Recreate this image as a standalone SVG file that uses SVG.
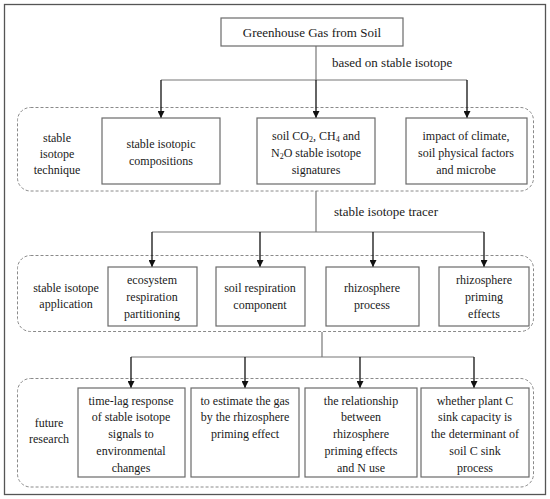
<svg xmlns="http://www.w3.org/2000/svg" width="550" height="499" viewBox="0 0 550 499" font-family="Liberation Serif">
<defs>
<marker id="ah" viewBox="0 0 10 10" refX="10" refY="5" markerWidth="7" markerHeight="7" markerUnits="userSpaceOnUse" orient="auto">
<path d="M0,0 L10,5 L0,10 z" fill="#111"/>
</marker>
<style>
text{font-size:12px;fill:#1a1a1a;text-anchor:middle}
.lbl{text-anchor:start;font-size:13px}
.box{fill:#fff;stroke:#6a6a6a;stroke-width:1.2}
.grp{fill:none;stroke:#8a8a8a;stroke-width:1;stroke-dasharray:3,2}
.ln{fill:none;stroke:#777;stroke-width:1.2}
.ar{fill:none;stroke:#111;stroke-width:1.3;marker-end:url(#ah)}
.sub{font-size:8px}
</style>
</defs>
<rect x="4.5" y="4.5" width="541" height="490" fill="#fff" stroke="#555" stroke-width="1.3"/>

<g id="groups">
<rect class="grp" x="17.5" y="107.5" width="516" height="83.5" rx="13"/>
<rect class="grp" x="17.5" y="255.5" width="516" height="76" rx="13"/>
<rect class="grp" x="17.5" y="378.5" width="516" height="108.5" rx="13"/>
</g>

<g id="connectors">
<line class="ln" x1="316" y1="46" x2="316" y2="80"/>
<line class="ln" x1="161" y1="80" x2="467" y2="80"/>
<line class="ar" x1="161" y1="80" x2="161" y2="118"/>
<line class="ar" x1="316" y1="80" x2="316" y2="118"/>
<line class="ar" x1="467" y1="80" x2="467" y2="118"/>
<line class="ln" x1="316" y1="191" x2="316" y2="232"/>
<line class="ln" x1="152" y1="232" x2="484" y2="232"/>
<line class="ar" x1="152" y1="232" x2="152" y2="267"/>
<line class="ar" x1="260" y1="232" x2="260" y2="267"/>
<line class="ar" x1="373" y1="232" x2="373" y2="267"/>
<line class="ar" x1="484" y1="232" x2="484" y2="267"/>
<line class="ln" x1="322" y1="332" x2="322" y2="357"/>
<line class="ln" x1="131" y1="357" x2="474" y2="357"/>
<line class="ar" x1="131" y1="357" x2="131" y2="388"/>
<line class="ar" x1="245" y1="357" x2="245" y2="388"/>
<line class="ar" x1="360" y1="357" x2="360" y2="388"/>
<line class="ar" x1="474" y1="357" x2="474" y2="388"/>
<text class="lbl" x="332" y="67">based on stable isotope</text>
<text class="lbl" x="334" y="216">stable isotope tracer</text>
</g>

<g id="n-ghg">
<rect class="box" x="221" y="18" width="182" height="28"/>
<text x="312" y="37" style="font-size:13px">Greenhouse Gas from Soil</text>
</g>

<g id="l-technique">
<text x="57" y="142">stable</text>
<text x="57" y="158">isotope</text>
<text x="57" y="174">technique</text>
</g>
<g id="n-compositions">
<rect class="box" x="102" y="118" width="118" height="66"/>
<text x="161" y="148">stable isotopic</text>
<text x="161" y="165">compositions</text>
</g>
<g id="n-signatures">
<rect class="box" x="257" y="118" width="118" height="66"/>
<text x="316" y="140">soil CO<tspan class="sub" dy="2">2</tspan><tspan dy="-2">, CH</tspan><tspan class="sub" dy="2">4</tspan><tspan dy="-2"> and</tspan></text>
<text x="316" y="157">N<tspan class="sub" dy="2">2</tspan><tspan dy="-2">O stable isotope</tspan></text>
<text x="316" y="174">signatures</text>
</g>
<g id="n-impact">
<rect class="box" x="406" y="118" width="121" height="66"/>
<text x="466" y="140">impact of climate,</text>
<text x="466" y="157">soil physical factors</text>
<text x="466" y="174">and microbe</text>
</g>

<g id="l-application">
<text x="66" y="292">stable isotope</text>
<text x="66" y="308">application</text>
</g>
<g id="n-ecosystem">
<rect class="box" x="108" y="267" width="89" height="59"/>
<text x="152" y="284">ecosystem</text>
<text x="152" y="301">respiration</text>
<text x="152" y="318">partitioning</text>
</g>
<g id="n-soilresp">
<rect class="box" x="216" y="267" width="89" height="59"/>
<text x="260" y="292">soil respiration</text>
<text x="260" y="309">component</text>
</g>
<g id="n-rhizo">
<rect class="box" x="326" y="267" width="93" height="59"/>
<text x="372" y="292">rhizosphere</text>
<text x="372" y="309">process</text>
</g>
<g id="n-priming">
<rect class="box" x="439" y="267" width="90" height="59"/>
<text x="484" y="284">rhizosphere</text>
<text x="484" y="301">priming</text>
<text x="484" y="318">effects</text>
</g>

<g id="l-future">
<text x="49" y="427">future</text>
<text x="49" y="443">research</text>
</g>
<g id="n-timelag">
<rect class="box" x="78" y="388" width="107" height="89"/>
<text x="131" y="405">time-lag response</text>
<text x="131" y="421">of stable isotope</text>
<text x="131" y="438">signals  to</text>
<text x="131" y="455">environmental</text>
<text x="131" y="472">changes</text>
</g>
<g id="n-estimate">
<rect class="box" x="191" y="388" width="108" height="89"/>
<text x="245" y="405">to estimate the gas</text>
<text x="245" y="421">by the rhizosphere</text>
<text x="245" y="438">priming effect</text>
</g>
<g id="n-relationship">
<rect class="box" x="305" y="388" width="112" height="89"/>
<text x="361" y="405">the relationship</text>
<text x="361" y="421">between</text>
<text x="361" y="438">rhizosphere</text>
<text x="361" y="455">priming effects</text>
<text x="361" y="472">and N use</text>
</g>
<g id="n-whether">
<rect class="box" x="421" y="388" width="108" height="89"/>
<text x="475" y="405">whether plant C</text>
<text x="475" y="421">sink capacity is</text>
<text x="475" y="438">the determinant of</text>
<text x="475" y="455">soil C sink</text>
<text x="475" y="472">process</text>
</g>
</svg>
